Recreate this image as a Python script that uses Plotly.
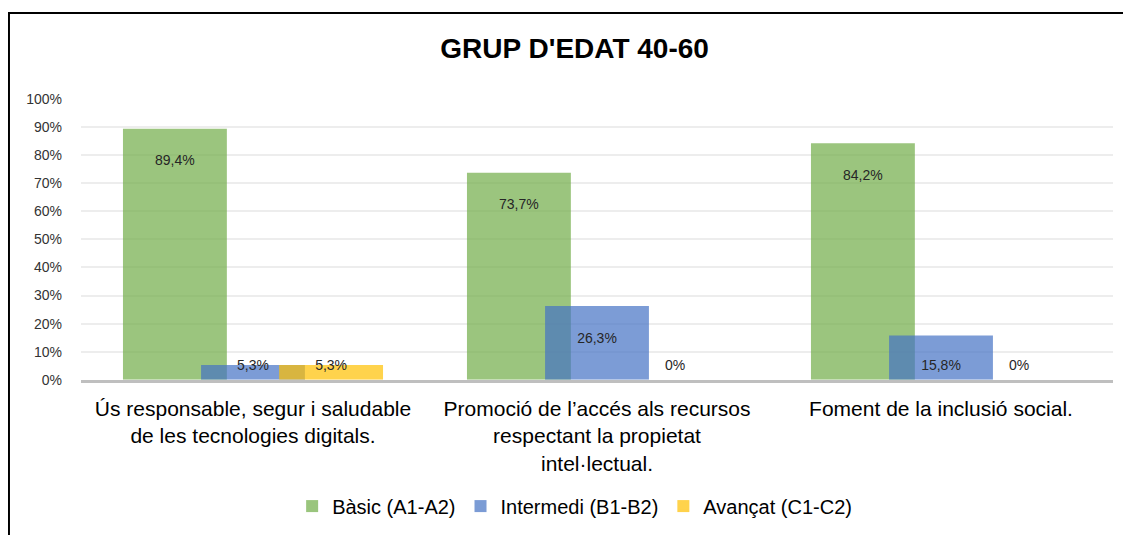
import plotly.graph_objects as go

# Dades del gràfic
categories = [
    "Ús responsable, segur i saludable<br>de les tecnologies digitals.",
    "Promoció de l’accés als recursos<br>respectant la propietat<br>intel·lectual.",
    "Foment de la inclusió social.",
]
series_names = ["Bàsic (A1-A2)", "Intermedi (B1-B2)", "Avançat (C1-C2)"]
basic = [89.4, 73.7, 84.2]
intermedi = [5.3, 26.3, 15.8]
avancat = [5.3, 0, 0]
value_labels = [
    ["89,4%", "73,7%", "84,2%"],
    ["5,3%", "26,3%", "15,8%"],
    ["5,3%", "0%", "0%"],
]

colors = ["#70AD47", "#4472C4", "#FFC000"]
font = "Liberation Sans, Arial, sans-serif"

# geometria de les barres (barres que se solapen, com a l'Excel)
bar_w = 0.302
step = 0.227
xs = list(range(len(categories)))

fig = go.Figure()

for i, (name, vals) in enumerate(zip(series_names, [basic, intermedi, avancat])):
    shift = (i - 1) * step
    fig.add_trace(go.Bar(
        x=xs,
        y=vals,
        name=name,
        width=bar_w,
        offset=shift - bar_w / 2,
        marker=dict(color=colors[i], line=dict(width=0)),
        opacity=0.7,
        hoverinfo="skip",
    ))
    # etiquetes de dades, una mica per sota del cap de la barra
    fig.add_trace(go.Scatter(
        x=[x + shift for x in xs],
        y=[max(v - 11.8, 4.9) for v in vals],
        mode="text",
        text=value_labels[i],
        textfont=dict(family=font, size=14, color="#262626"),
        showlegend=False,
        hoverinfo="skip",
    ))

# marc del gràfic
fig.add_shape(type="rect", xref="paper", yref="paper",
              x0=-0.0698, x1=1.2, y0=-1.0, y1=1.3067,
              line=dict(color="black", width=2), fillcolor="rgba(0,0,0,0)",
              layer="below")

fig.update_layout(
    width=1131,
    height=535,
    margin=dict(l=73, r=26, t=91, b=162),
    paper_bgcolor="white",
    plot_bgcolor="white",
    barmode="overlay",
    font=dict(family=font, color="black"),
    title=dict(
        text="<b>GRUP D'EDAT 40-60</b>",
        x=0.501, xanchor="center", xref="container",
        y=0.925, yanchor="middle", yref="container",
        font=dict(family=font, size=28, color="black"),
    ),
    xaxis=dict(
        range=[-0.5, 2.5],
        tickvals=xs,
        ticktext=categories,
        tickfont=dict(family=font, size=21, color="black"),
        showgrid=False,
        zeroline=False,
        showline=True,
        linecolor="#BFBFBF",
        linewidth=3,
        ticks="",
        ticklabelstandoff=8,
        fixedrange=True,
    ),
    yaxis=dict(
        range=[0, 100],
        dtick=10,
        ticksuffix="%",
        tickfont=dict(family=font, size=14, color="#333333"),
        showgrid=True,
        gridcolor="#EDEDED",
        gridwidth=1.5,
        zeroline=False,
        ticklabelstandoff=18,
        fixedrange=True,
    ),
    legend=dict(
        orientation="h",
        x=0.501, xanchor="center", xref="container",
        y=0.069, yanchor="middle", yref="container",
        font=dict(family=font, size=20, color="black"),
        traceorder="normal",
        itemclick=False,
    ),
    showlegend=True,
)

fig.write_html("out.html")
